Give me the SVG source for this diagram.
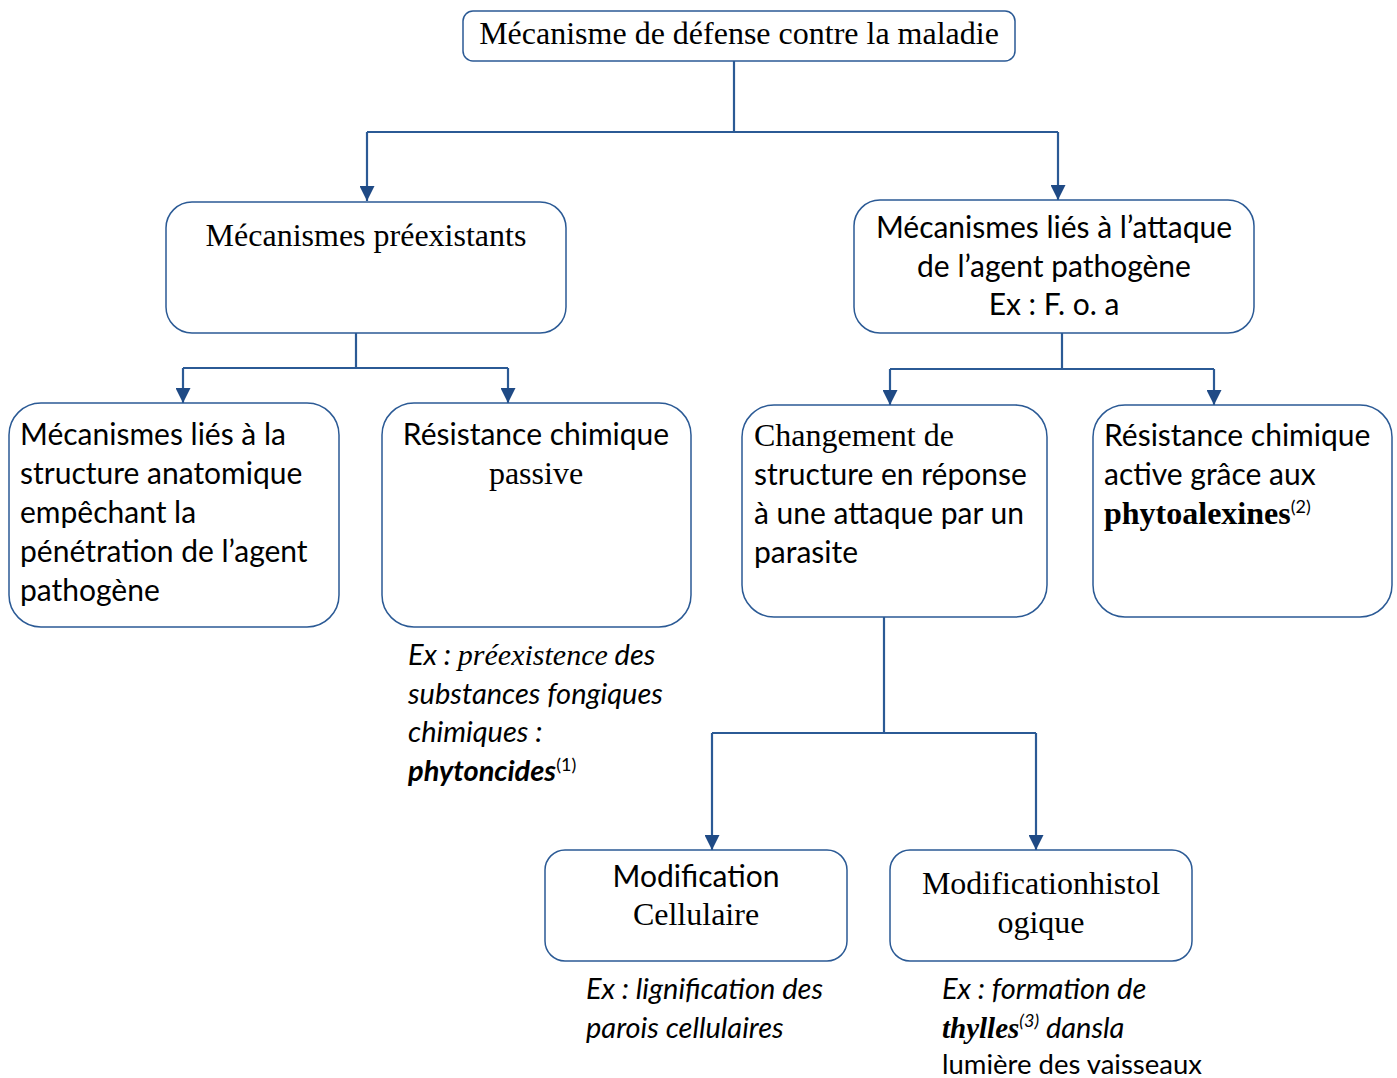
<svg xmlns="http://www.w3.org/2000/svg" width="1397" height="1078" viewBox="0 0 1397 1078">
<defs>
<marker id="arr" markerWidth="15" markerHeight="15" refX="15" refY="7.5" orient="auto" markerUnits="userSpaceOnUse" viewBox="0 0 15 15">
<path d="M0,0 L15,7.5 L0,15 z" fill="#1f4a85"/>
</marker>
<style>
.box{fill:#fff;stroke:#2b5a95;stroke-width:1.5}
.ln{fill:none;stroke:#2b5a95;stroke-width:2.2}
.s{font-family:Lato,"Open Sans",sans-serif;font-size:30px;fill:#000}
.r{font-family:"Liberation Serif",serif;font-size:32px;fill:#000}
.it{font-family:Lato,"Open Sans",sans-serif;font-size:29px;font-style:italic;fill:#000}
.i{font-style:italic}
.b{font-weight:bold}
.sup{font-family:Lato,sans-serif;font-size:18px;font-weight:normal}
</style>
</defs>
<rect width="1397" height="1078" fill="#fff"/>
<g id="connectors">
<path class="ln" d="M734,61 V132 M367,132 H1058"/>
<path class="ln" d="M367,132 V201" marker-end="url(#arr)"/>
<path class="ln" d="M1058,132 V200" marker-end="url(#arr)"/>
<path class="ln" d="M356,333 V368 M183,368 H508"/>
<path class="ln" d="M183,368 V403" marker-end="url(#arr)"/>
<path class="ln" d="M508,368 V403" marker-end="url(#arr)"/>
<path class="ln" d="M1062,333 V369 M890,369 H1214"/>
<path class="ln" d="M890,369 V405" marker-end="url(#arr)"/>
<path class="ln" d="M1214,369 V405" marker-end="url(#arr)"/>
<path class="ln" d="M884,617 V733 M712,733 H1036"/>
<path class="ln" d="M712,733 V850" marker-end="url(#arr)"/>
<path class="ln" d="M1036,733 V850" marker-end="url(#arr)"/>
</g>
<g id="n_top">
<rect class="box" x="463" y="11" width="552" height="50" rx="10"/>
<text class="r" x="739" y="44" text-anchor="middle">Mécanisme de défense contre la maladie</text>
</g>
<g id="n_preexistants">
<rect class="box" x="166" y="202" width="400" height="131" rx="26"/>
<text class="r" x="366" y="246" text-anchor="middle">Mécanismes préexistants</text>
</g>
<g id="n_attaque">
<rect class="box" x="854" y="200" width="400" height="133" rx="26"/>
<text class="s" text-anchor="middle"><tspan x="1054" y="238">Mécanismes liés à l’attaque</tspan><tspan x="1054" y="277">de l’agent pathogène</tspan><tspan x="1054" y="315">Ex : F. o. a</tspan></text>
</g>
<g id="n_structure">
<rect class="box" x="9" y="403" width="330" height="224" rx="32"/>
<text class="s"><tspan x="20" y="445">Mécanismes liés à la</tspan><tspan x="20" y="484">structure anatomique</tspan><tspan x="20" y="523">empêchant la</tspan><tspan x="20" y="562">pénétration de l’agent</tspan><tspan x="20" y="601">pathogène</tspan></text>
</g>
<g id="n_passive">
<rect class="box" x="382" y="403" width="309" height="224" rx="32"/>
<text class="s" x="536" y="445" text-anchor="middle">Résistance chimique</text>
<text class="r" x="536" y="484" text-anchor="middle">passive</text>
<text class="it"><tspan x="408" y="665">Ex : <tspan class="r i" style="font-size:30px">préexistence</tspan> des</tspan><tspan x="408" y="704">substances fongiques</tspan><tspan x="408" y="742">chimiques :</tspan><tspan x="408" y="781" class="b">phytoncides</tspan><tspan class="sup" font-style="normal" dy="-10">(1)</tspan></text>
</g>
<g id="n_changement">
<rect class="box" x="742" y="405" width="305" height="212" rx="32"/>
<text class="r" x="754" y="446">Changement de</text>
<text class="s"><tspan x="754" y="485">structure en réponse</tspan><tspan x="754" y="524">à une attaque par un</tspan><tspan x="754" y="563">parasite</tspan></text>
</g>
<g id="n_active">
<rect class="box" x="1093" y="405" width="299" height="212" rx="32"/>
<text class="s"><tspan x="1104" y="446">Résistance chimique</tspan><tspan x="1104" y="485">active grâce aux</tspan></text>
<text class="r b" x="1104" y="524">phytoalexines<tspan class="sup" dy="-11">(2)</tspan></text>
</g>
<g id="n_cellulaire">
<rect class="box" x="545" y="850" width="302" height="111" rx="20"/>
<text class="s" x="696" y="887" text-anchor="middle">Modification</text>
<text class="r" x="696" y="925" text-anchor="middle">Cellulaire</text>
<text class="it"><tspan x="586" y="999">Ex : lignification des</tspan><tspan x="586" y="1038">parois cellulaires</tspan></text>
</g>
<g id="n_histologique">
<rect class="box" x="890" y="850" width="302" height="111" rx="20"/>
<text class="r" text-anchor="middle"><tspan x="1041" y="894">Modificationhistol</tspan><tspan x="1041" y="933">ogique</tspan></text>
<text class="it" x="942" y="999">Ex : formation de</text>
<text x="942" y="1038"><tspan class="r i b" style="font-size:29px">thylles</tspan><tspan class="sup i" dy="-11">(3)</tspan><tspan class="it" dy="11"> dansla</tspan></text>
<text class="s" x="942" y="1074" style="font-size:27.5px">lumière des vaisseaux</text>
</g>
</svg>
